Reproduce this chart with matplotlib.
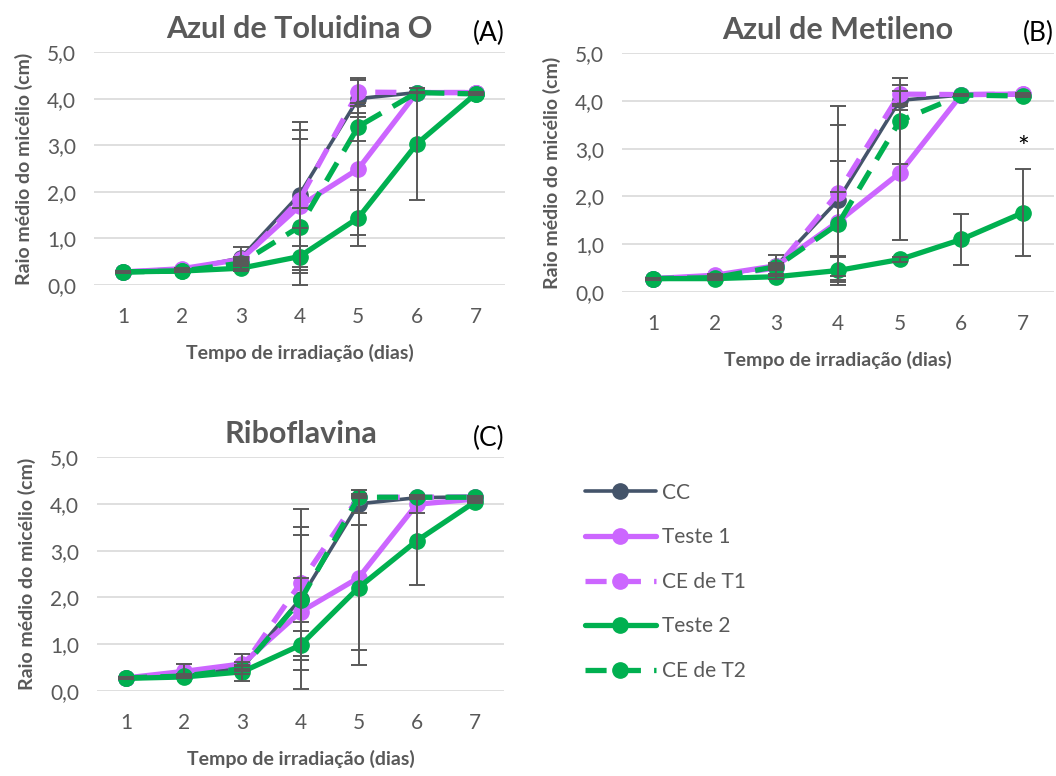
import matplotlib.pyplot as plt
import numpy as np

plt.rcParams['font.family'] = ['Lato', 'DejaVu Sans']

dias = [1, 2, 3, 4, 5, 6, 7]
series = ["CC", "Teste 1", "CE de T1", "Teste 2", "CE de T2"]

# (A) Azul de Toluidina O
a_cc = [0.28, 0.33, 0.58, 1.94, 4.00, 4.13, 4.13]
a_t1 = [0.28, 0.35, 0.55, 1.69, 2.49, 4.13, 4.13]
a_ce1 = [0.28, 0.33, 0.50, 1.83, 4.14, 4.13, 4.13]
a_t2 = [0.28, 0.30, 0.36, 0.61, 1.44, 3.03, 4.10]
a_ce2 = [0.28, 0.30, 0.47, 1.25, 3.40, 4.13, 4.10]
a_err_cc = [0.02, 0.02, 0.24, 1.55, 0.40, 0.02, 0.02]
a_err_t1 = [0.02, 0.02, 0.05, 1.44, 1.41, 0.02, 0.02]
a_err_ce1 = [0.02, 0.02, 0.05, 1.50, 0.30, 0.02, 0.02]
a_err_t2 = [0.02, 0.02, 0.05, 0.61, 0.60, 1.20, 0.02]
a_err_ce2 = [0.02, 0.02, 0.05, 0.41, 0.30, 0.02, 0.02]

# (B) Azul de Metileno
b_cc = [0.28, 0.33, 0.55, 1.92, 4.01, 4.12, 4.12]
b_t1 = [0.28, 0.35, 0.55, 1.47, 2.49, 4.13, 4.14]
b_ce1 = [0.28, 0.33, 0.50, 2.07, 4.14, 4.13, 4.14]
b_t2 = [0.28, 0.28, 0.32, 0.45, 0.68, 1.10, 1.66]
b_ce2 = [0.28, 0.30, 0.53, 1.42, 3.58, 4.12, 4.10]
b_err_cc = [0.02, 0.02, 0.22, 1.58, 0.20, 0.02, 0.02]
b_err_t1 = [0.02, 0.02, 0.05, 1.27, 1.40, 0.02, 0.02]
b_err_ce1 = [0.02, 0.02, 0.05, 1.82, 0.20, 0.02, 0.02]
b_err_t2 = [0.02, 0.02, 0.05, 0.30, 0.05, 0.54, 0.91]
b_err_ce2 = [0.02, 0.02, 0.05, 0.68, 0.90, 0.02, 0.02]

# (C) Riboflavina
c_cc = [0.28, 0.33, 0.50, 1.97, 4.00, 4.13, 4.15]
c_t1 = [0.28, 0.42, 0.58, 1.69, 2.42, 3.99, 4.10]
c_ce1 = [0.28, 0.35, 0.50, 2.31, 4.14, 4.14, 4.15]
c_t2 = [0.27, 0.30, 0.41, 0.98, 2.21, 3.21, 4.04]
c_ce2 = [0.28, 0.32, 0.48, 1.94, 4.14, 4.14, 4.14]
c_err_cc = [0.02, 0.02, 0.28, 1.53, 0.20, 0.02, 0.02]
c_err_t1 = [0.02, 0.15, 0.05, 1.64, 1.87, 0.19, 0.02]
c_err_ce1 = [0.02, 0.02, 0.05, 1.57, 0.02, 0.02, 0.02]
c_err_t2 = [0.02, 0.02, 0.05, 0.31, 1.33, 0.94, 0.02]
c_err_ce2 = [0.02, 0.02, 0.05, 0.47, 0.02, 0.02, 0.02]

cinza_escuro = "#44546A"
roxo = "#CC66FF"
verde = "#00B050"
texto = "#595959"

estilos = [
    dict(color=cinza_escuro, lw=2.6, ls="-"),
    dict(color=roxo, lw=3.8, ls="-"),
    dict(color=roxo, lw=3.8, ls=(0, (4, 2.5))),
    dict(color=verde, lw=3.8, ls="-"),
    dict(color=verde, lw=3.8, ls=(0, (4, 2.5))),
]

W, H = 1056, 776
fig = plt.figure(figsize=(W / 100, H / 100), dpi=100)


def px(x0, y0, x1, y1):
    return [x0 / W, 1 - y1 / H, (x1 - x0) / W, (y1 - y0) / H]


paineis = [
    ("Azul de Toluidina O", "(A)", px(94, 52, 505, 285),
     [a_cc, a_t1, a_ce1, a_t2, a_ce2],
     [a_err_cc, a_err_t1, a_err_ce1, a_err_t2, a_err_ce2]),
    ("Azul de Metileno", "(B)", px(622, 53, 1054, 292),
     [b_cc, b_t1, b_ce1, b_t2, b_ce2],
     [b_err_cc, b_err_t1, b_err_ce1, b_err_t2, b_err_ce2]),
    ("Riboflavina", "(C)", px(97, 457, 504, 691),
     [c_cc, c_t1, c_ce1, c_t2, c_ce2],
     [c_err_cc, c_err_t1, c_err_ce1, c_err_t2, c_err_ce2]),
]

handles = []
for titulo, letra, rect, dados, erros in paineis:
    ax = fig.add_axes(rect)
    ax.set_xlim(0.5, 7.5)
    ax.set_ylim(0, 5)
    ax.set_yticks(np.arange(0, 5.1, 1.0))
    ax.set_yticklabels([("%.1f" % v).replace(".", ",") for v in np.arange(0, 5.1, 1.0)])
    ax.set_xticks(dias)
    ax.grid(axis="y", color="#D9D9D9", lw=1.2)
    ax.set_axisbelow(True)
    for s in ax.spines.values():
        s.set_visible(False)
    ax.tick_params(length=0, labelsize=15, labelcolor=texto)
    ax.tick_params(axis="x", pad=16)
    ax.tick_params(axis="y", pad=13)
    hs = []
    for y, e, st, nome in zip(dados, erros, estilos, series):
        h, = ax.plot(dias, y, marker="o", ms=11, label=nome, clip_on=False,
                     solid_capstyle="round", dash_capstyle="butt", zorder=3, **st)
        ax.errorbar(dias, y, yerr=e, fmt="none", ecolor=texto, elinewidth=1.4,
                    capsize=6, capthick=1.4, zorder=4, clip_on=False)
        hs.append(h)
    handles = hs
    ax.set_title(titulo, fontsize=22, fontweight="bold", color=texto, pad=10)
    ax.text(1.0, 1.08, letra, transform=ax.transAxes, ha="right", va="center",
            fontsize=19, color="black")
    ax.set_xlabel("Tempo de irradiação (dias)", fontsize=14, fontweight="bold",
                  color=texto, labelpad=12)
    ax.set_ylabel("Raio médio do micélio (cm)", fontsize=14, fontweight="bold",
                  color=texto, labelpad=10)
    if letra == "(B)":
        ax.text(7, 3.0, "*", ha="center", va="center", fontsize=20, color="black")

fig.legend(handles, series, loc="upper left", bbox_to_anchor=(566 / W, 1 - 464 / H),
           frameon=False, fontsize=15, labelcolor=texto, handlelength=3.4,
           handletextpad=0.3, labelspacing=1.18)

plt.savefig("out.png", dpi=100)
